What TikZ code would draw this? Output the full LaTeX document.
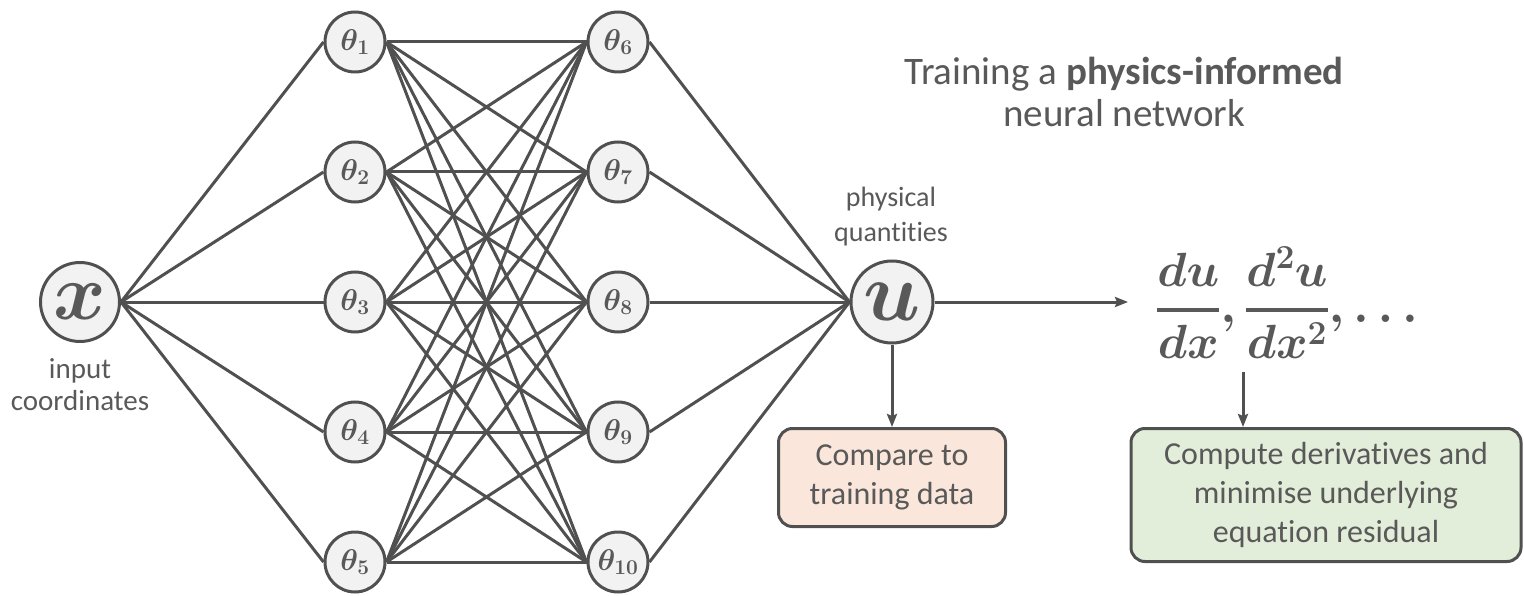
\documentclass[tikz,border=0pt]{standalone}
\usepackage{fix-cm}
\usepackage{amsmath}
\usepackage{fontspec}
\setmainfont[Ligatures=NoCommon]{Carlito}
\usetikzlibrary{arrows.meta}
\definecolor{lc}{HTML}{505050}
\definecolor{tc}{HTML}{595959}
\definecolor{nf}{HTML}{F2F2F2}
\definecolor{peach}{HTML}{FAE6DA}
\definecolor{mint}{HTML}{E3EEDA}
\newcommand{\thickfrac}[2]{\genfrac{}{}{3.6pt}{0}{#1}{#2}}
\begin{document}
\begin{tikzpicture}[x=1pt,y=-1pt,
  neuron/.style={circle,draw=lc,line width=3pt,fill=nf,minimum size=60pt,inner sep=0pt,text=tc,font=\fontsize{30}{32}\selectfont\boldmath},
  bigneuron/.style={neuron,minimum size=79pt},
  conn/.style={lc,line width=3pt},
  arr/.style={conn,-{Stealth[length=13pt,width=10pt,inset=2pt]}},
  lbl/.style={text=tc,align=center,inner sep=0pt},
  boxn/.style={draw=lc,line width=3pt,rounded corners=14pt,text=tc,align=center,font=\fontsize{32}{39}\selectfont,inner sep=0pt}
]
\useasboundingbox (0,0) rectangle (1524,596);

% input and output
\node[bigneuron,font=\fontsize{80}{90}\selectfont\boldmath] (x) at (80,302) {$x$};
\node[bigneuron,minimum size=82pt,font=\fontsize{84}{90}\selectfont\boldmath] (u) at (892,302) {$u$};

% hidden layers
\foreach \i in {1,...,5} {
  \node[neuron] (t\i) at (355,{42+130*(\i-1)}) {$\theta_{\i}$};
}
\foreach \i in {6,...,10} {
  \node[neuron] (t\i) at (618,{42+130*(\i-6)}) {$\theta_{\i}$};
}

% connections
\foreach \i in {1,...,5} {
  \draw[conn] (x.east) -- (t\i.west);
  \foreach \j in {6,...,10} {
    \draw[conn] (t\i.east) -- (t\j.west);
  }
}
\foreach \j in {6,...,10} {
  \draw[conn] (t\j.east) -- (u.west);
}

% labels
\node[lbl,font=\fontsize{29}{32}\selectfont] (inlbl) at (80,385) {input\\coordinates};
\node[lbl,font=\fontsize{28}{35}\selectfont] (qlbl) at (891,217) {physical\\quantities};

% title
\node[lbl,anchor=base,font=\fontsize{39}{42}\selectfont] (title1) at (1124,85) {Training a \textbf{physics-informed}};
\node[lbl,anchor=base,font=\fontsize{39}{42}\selectfont] (title2) at (1124,127) {neural network};

% derivatives
\node[lbl,anchor=base west,font=\fontsize{48}{52}\selectfont\boldmath] (frac) at (1156,322)
  {$\thickfrac{du}{dx},\thickfrac{d^2u}{dx^2},\ldots$};
\coordinate (ft) at (1128,302);
\draw[arr] (u.east) -- (ft);

% boxes
\node[boxn,fill=peach,minimum width=227pt,minimum height=98pt] (cmp) at (892,477.5) {Compare to\\training data};
\node[boxn,fill=mint,minimum width=390pt,minimum height=133pt] (res) at (1326,495) {Compute derivatives and\\minimise underlying\\equation residual};

\draw[arr] (u.south) -- (cmp.north);
\coordinate (fd) at (1243,372);
\draw[arr] (fd) -- (fd |- res.north);
\end{tikzpicture}
\end{document}
